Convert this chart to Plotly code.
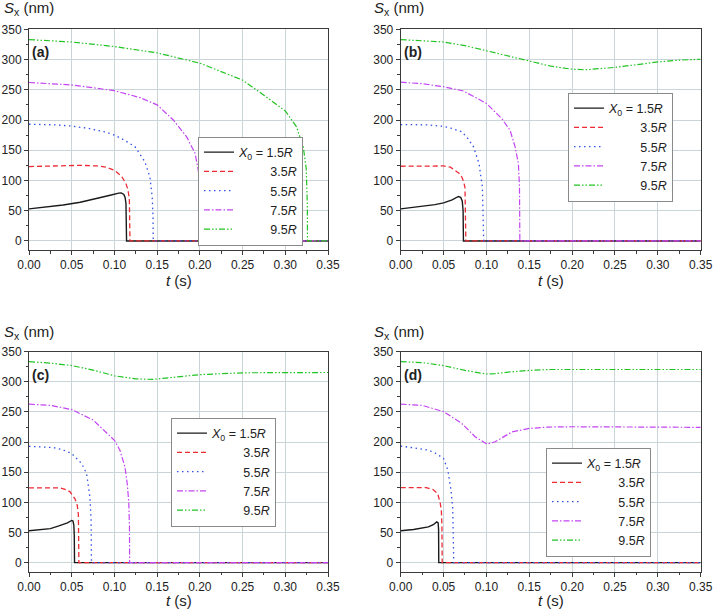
import plotly.graph_objects as go

# ---------------- data (t in s, Sx in nm) ----------------
# panel (a)
A15_T = [0, 0.02, 0.04, 0.06, 0.08, 0.095, 0.105, 0.108, 0.111, 0.1125, 0.1135, 0.114, 0.1142, 0.35]
A15_S = [53, 56, 59.5, 64, 70, 75.5, 79, 79.5, 77, 72, 62, 40, 0, 0]
A35_T = [0, 0.03, 0.06, 0.08, 0.09, 0.1, 0.1084, 0.1134, 0.116, 0.1175, 0.118, 0.1182, 0.35]
A35_S = [123, 124.5, 125, 124, 122, 117, 107, 95, 84, 67, 40, 0, 0]
A55_T = [0, 0.03, 0.05, 0.07, 0.09, 0.1, 0.11, 0.124, 0.1356, 0.1415, 0.1442, 0.1452, 0.1454, 0.35]
A55_S = [193, 192, 190, 186, 180, 175, 168, 156, 131, 106, 73, 40, 0, 0]
A75_T = [0, 0.05, 0.1, 0.13, 0.15, 0.169, 0.1846, 0.1943, 0.1982, 0.1998, 0.2003, 0.2005, 0.35]
A75_S = [262, 258, 248.5, 237, 225, 200, 172, 145, 117, 90, 40, 0, 0]
A95_T = [0, 0.05, 0.1, 0.15, 0.2, 0.25, 0.275, 0.3, 0.313, 0.321, 0.3245, 0.3258, 0.326, 0.35]
A95_S = [333, 329, 321.5, 311, 294, 266, 241, 215, 189, 156, 120, 60, 0, 0]

# panel (b)
B15_T = [0, 0.02, 0.04, 0.05, 0.06, 0.0673, 0.07, 0.0718, 0.0728, 0.0732, 0.35]
B15_S = [53, 56, 60, 63, 68, 73.5, 72, 66, 50, 0, 0]
B35_T = [0, 0.03, 0.05, 0.058, 0.0634, 0.068, 0.0712, 0.0735, 0.075, 0.0758, 0.076, 0.35]
B35_S = [123.5, 124.5, 124, 122, 117, 112, 106, 98, 88, 50, 0, 0]
B55_T = [0, 0.03, 0.05, 0.06, 0.0712, 0.078, 0.0848, 0.0914, 0.0953, 0.0963, 0.0968, 0.35]
B55_S = [192.5, 192, 189.5, 186, 180.5, 170, 156, 128, 89, 50, 0, 0]
B75_T = [0, 0.025, 0.05, 0.0731, 0.1, 0.1178, 0.1276, 0.1334, 0.1373, 0.1386, 0.139, 0.35]
B75_S = [262.5, 260, 255, 248, 227.5, 202.5, 183, 156, 128, 90, 0, 0]
B95_T = [0, 0.025, 0.05, 0.075, 0.1, 0.125, 0.15, 0.175, 0.2, 0.215, 0.25, 0.275, 0.3, 0.325, 0.35]
B95_S = [333, 331.5, 329, 323, 314.5, 306, 297.5, 289, 284, 283, 287, 292, 296, 299, 300.5]

# panel (c)
C15_T = [0, 0.025, 0.035, 0.045, 0.05, 0.0515, 0.0525, 0.053, 0.0533, 0.35]
C15_S = [53, 56.5, 61, 66, 70, 69, 62, 45, 0, 0]
C35_T = [0, 0.02, 0.036, 0.044, 0.048, 0.0538, 0.0565, 0.0578, 0.0582, 0.0584, 0.35]
C35_S = [124, 124.5, 124, 121, 117.5, 106, 95, 80, 50, 0, 0]
C55_T = [0, 0.0285, 0.04, 0.05, 0.0616, 0.0674, 0.0713, 0.0727, 0.0731, 0.35]
C55_S = [193, 191, 187, 181, 164.5, 148, 109, 70, 0, 0]
C75_T = [0, 0.025, 0.05, 0.0752, 0.1, 0.1064, 0.1123, 0.115, 0.1168, 0.1176, 0.1178, 0.35]
C75_S = [263, 261, 254, 236.5, 203, 186.7, 159, 131, 100, 60, 0, 0]
C95_T = [0, 0.025, 0.05, 0.075, 0.1, 0.125, 0.145, 0.175, 0.2, 0.25, 0.3, 0.35]
C95_S = [333.5, 331, 327, 319.5, 310, 305, 304, 308, 312, 315, 315.5, 315.5]

# panel (d)
D15_T = [0, 0.015, 0.0323, 0.038, 0.042, 0.0437, 0.0442, 0.0444, 0.35]
D15_S = [53, 55, 59.3, 63, 67.5, 66, 55, 0, 0]
D35_T = [0, 0.03, 0.038, 0.043, 0.046, 0.0475, 0.0481, 0.0484, 0.35]
D35_S = [124.5, 124.5, 121, 115, 100, 85, 60, 0, 0]
D55_T = [0, 0.02, 0.0323, 0.04, 0.05, 0.055, 0.0587, 0.0607, 0.0616, 0.0619, 0.35]
D55_S = [193.5, 190, 186.7, 182, 173, 153.5, 120, 90, 50, 0, 0]
D75_T = [0, 0.025, 0.05, 0.0712, 0.0868, 0.1008, 0.11, 0.13, 0.15, 0.1727, 0.2, 0.25, 0.3, 0.35]
D75_S = [263, 261, 250.5, 231, 209, 196.5, 200.5, 217, 222.7, 225, 225.5, 225, 225, 224.5]
D95_T = [0, 0.025, 0.05, 0.075, 0.1, 0.11, 0.125, 0.15, 0.175, 0.2, 0.25, 0.3, 0.35]
D95_S = [333.5, 332, 327, 319, 313, 313.5, 316, 319, 320.5, 320.5, 320.5, 320.5, 320.5]

SERIES_LABELS = ["1.5", "3.5", "5.5", "7.5", "9.5"]
PANEL_LABELS = ["(a)", "(b)", "(c)", "(d)"]
X_TICKS = [0, 0.05, 0.10, 0.15, 0.20, 0.25, 0.30, 0.35]
Y_TICKS = [0, 50, 100, 150, 200, 250, 300, 350]

PANELS = [
    [(A15_T, A15_S), (A35_T, A35_S), (A55_T, A55_S), (A75_T, A75_S), (A95_T, A95_S)],
    [(B15_T, B15_S), (B35_T, B35_S), (B55_T, B55_S), (B75_T, B75_S), (B95_T, B95_S)],
    [(C15_T, C15_S), (C35_T, C35_S), (C55_T, C55_S), (C75_T, C75_S), (C95_T, C95_S)],
    [(D15_T, D15_S), (D35_T, D35_S), (D55_T, D55_S), (D75_T, D75_S), (D95_T, D95_S)],
]

# ---------------- styles ----------------
W, H = 713, 612
FONT = "Liberation Sans, Arial, sans-serif"
STYLES = [
    dict(color="#1a1a1a", width=1.4, dash="solid"),
    dict(color="#ee2a35", width=1.3, dash="5px,3px"),
    dict(color="#3050e8", width=1.3, dash="1.5px,3.5px"),
    dict(color="#c444f4", width=1.2, dash="6px,2px,1.5px,2px"),
    dict(color="#22c322", width=1.2, dash="6px,2px,1.5px,2px,1.5px,2px"),
]

XD = [[29 / W, 328 / W], [400.7 / W, 700.7 / W]]
YD = [[1 - 250 / H, 1 - 29.3 / H], [1 - 571.7 / H, 1 - 351.7 / H]]
# (x-domain idx, y-domain idx) per panel
POS = [(0, 0), (1, 0), (0, 1), (1, 1)]
# legend placement (right px, center-y px)
LEG = [(303, 191), (673, 147), (276, 472), (651, 502)]
# Sx label position (left px, center y px)
SX = [(2, 9), (372, 9), (2, 332), (372, 332)]
# x title centre y px
TY = [281, 281, 600, 600]

NB = "\u00a0"

fig = go.Figure()
layout = dict(
    width=W, height=H,
    margin=dict(l=0, r=0, t=0, b=0, autoexpand=False),
    paper_bgcolor="white", plot_bgcolor="white",
    font=dict(family=FONT, size=12, color="#222"),
    annotations=[],
)

for p in range(4):
    sfx = "" if p == 0 else str(p + 1)
    leg = "legend" if p == 0 else "legend" + str(p + 1)
    for i, (t, s) in enumerate(PANELS[p]):
        if i == 0:
            name = "<i>X</i><sub>0</sub> = " + SERIES_LABELS[i] + "<i>R</i>"
        else:
            name = NB * 9 + SERIES_LABELS[i] + "<i>R</i>"
        fig.add_trace(go.Scatter(
            x=t, y=s, mode="lines", name=name,
            line=STYLES[i], xaxis="x" + sfx, yaxis="y" + sfx,
            legend=leg, showlegend=True,
        ))
    xi, yi = POS[p]
    common = dict(
        automargin=False,
        showline=True, mirror=True, linecolor="#3a3a3a", linewidth=1,
        showgrid=True, gridcolor="#cad5d9", gridwidth=1,
        zeroline=False, ticks="outside", ticklen=4, tickwidth=1, tickcolor="#3a3a3a",
        tickfont=dict(family=FONT, size=12, color="#222"),
    )
    layout["xaxis" + sfx] = dict(
        domain=XD[xi], anchor="y" + sfx, range=[0, 0.35],
        tickvals=X_TICKS, tickformat=".2f",
        minor=dict(dtick=0.025, tick0=0, ticks="outside", ticklen=2.5, tickcolor="#3a3a3a", showgrid=False),
        **common,
    )
    layout["yaxis" + sfx] = dict(
        domain=YD[yi], anchor="x" + sfx, range=[-15, 350],
        tickvals=Y_TICKS,
        minor=dict(dtick=25, tick0=0, ticks="outside", ticklen=2.5, tickcolor="#3a3a3a", showgrid=False),
        **common,
    )
    lx, ly = LEG[p]
    layout[leg] = dict(
        x=lx / W, y=1 - ly / H, xanchor="right", yanchor="middle",
        xref="paper", yref="paper",
        bgcolor="white", bordercolor="#8a8a8a", borderwidth=1,
        font=dict(family=FONT, size=12.5, color="#222"),
        itemwidth=30, tracegroupgap=0,
    )
    layout["annotations"].append(dict(
        text="<b>" + PANEL_LABELS[p] + "</b>", xref="x" + sfx + " domain", yref="y" + sfx + " domain",
        x=0.005, y=1 - 23 / 220.5, xanchor="left", yanchor="middle", showarrow=False,
        font=dict(family=FONT, size=14, color="#222"),
    ))
    sx, sy = SX[p]
    layout["annotations"].append(dict(
        text="<i>S</i><sub>x</sub> (nm)", xref="paper", yref="paper",
        x=sx / W, y=1 - sy / H, xanchor="left", yanchor="middle", showarrow=False,
        font=dict(family=FONT, size=15, color="#222"),
    ))
    layout["annotations"].append(dict(
        text="<i>t</i> (s)", xref="x" + sfx + " domain", yref="paper",
        x=0.5, y=1 - TY[p] / H, xanchor="center", yanchor="middle", showarrow=False,
        font=dict(family=FONT, size=15, color="#222"),
    ))

fig.update_layout(**layout)
fig.write_html(
    "out.html",
    config={"displayModeBar": False, "staticPlot": True},
    post_script=(
        "document.body.style.margin='0';document.body.style.padding='0';"
        "document.documentElement.style.overflow='hidden';"
    ),
)
